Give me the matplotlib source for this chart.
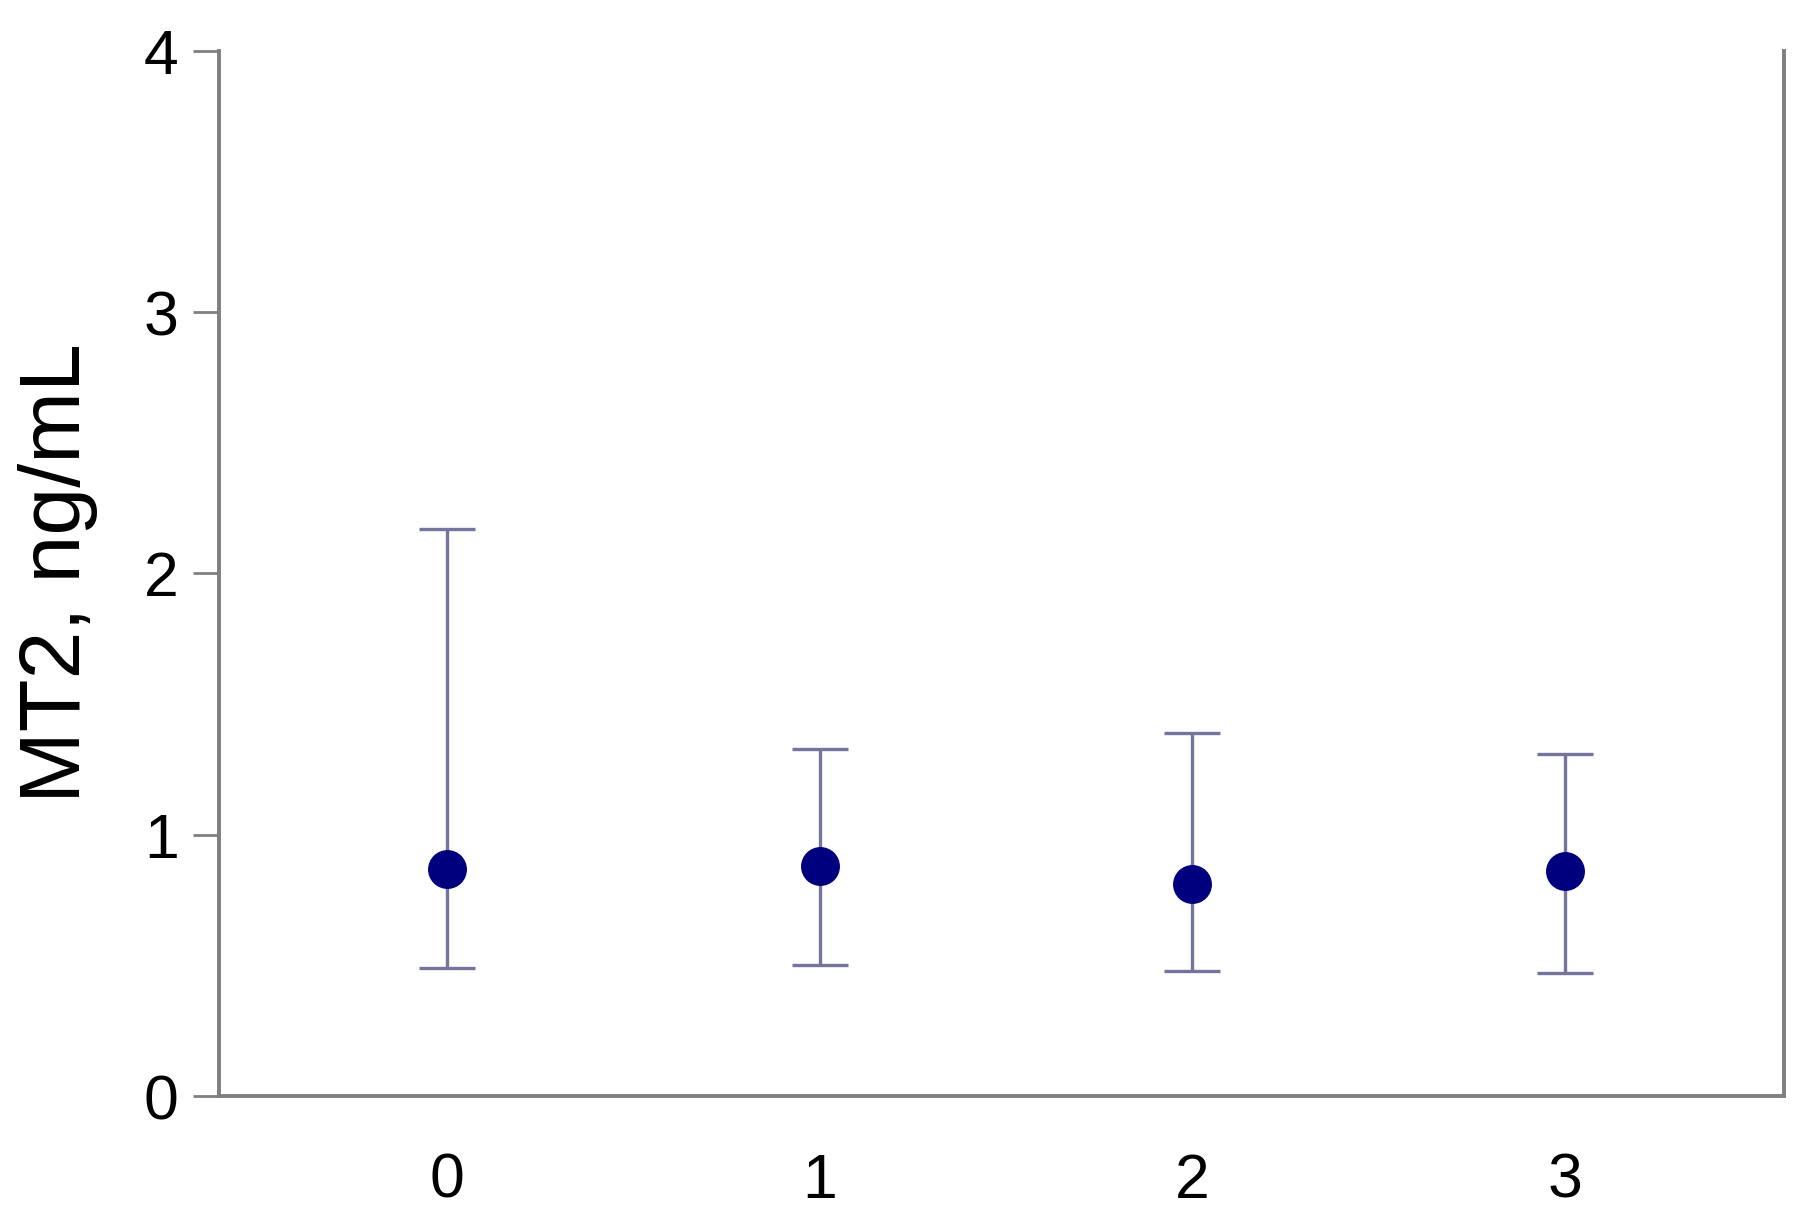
import matplotlib.pyplot as plt
import numpy as np

plt.rcParams['font.family'] = ['Liberation Sans', 'DejaVu Sans']

grupos = [0, 1, 2, 3]
media = [0.87, 0.88, 0.81, 0.86]
limite_inf = [0.49, 0.50, 0.48, 0.47]
limite_sup = [2.17, 1.33, 1.39, 1.31]
ticks_y = [0, 1, 2, 3, 4]

media_arr = np.array(media)
erro = [media_arr - np.array(limite_inf), np.array(limite_sup) - media_arr]

fig = plt.figure(figsize=(18.2, 12.25), dpi=100)
ax = fig.add_axes([0.1203, 0.1053, 0.8599, 0.8531])

ax.errorbar(grupos, media, yerr=erro, fmt='none', ecolor='#74749c',
            elinewidth=2.4, capsize=20, capthick=2.4, zorder=2)
ax.plot(grupos, media, 'o', color='#00007f', markersize=27, zorder=3)

ax.set_xlim(-0.612, 3.588)
ax.set_ylim(0, 4)
ax.set_yticks(ticks_y)
ax.set_xticks(grupos)

for lado in ['left', 'right', 'bottom']:
    ax.spines[lado].set_color('#7f7f7f')
    ax.spines[lado].set_linewidth(2.8)
ax.spines['top'].set_visible(False)

ax.tick_params(axis='y', direction='out', length=19, width=2, color='#7f7f7f',
               labelsize=45, pad=10, right=False)
ax.tick_params(axis='x', length=0, labelsize=45, pad=40)

ax.set_ylabel('MT2, ng/mL', fontsize=62)
ax.yaxis.set_label_coords(-0.077, 0.5)

fig.savefig('out.png', dpi=100, facecolor='white')
